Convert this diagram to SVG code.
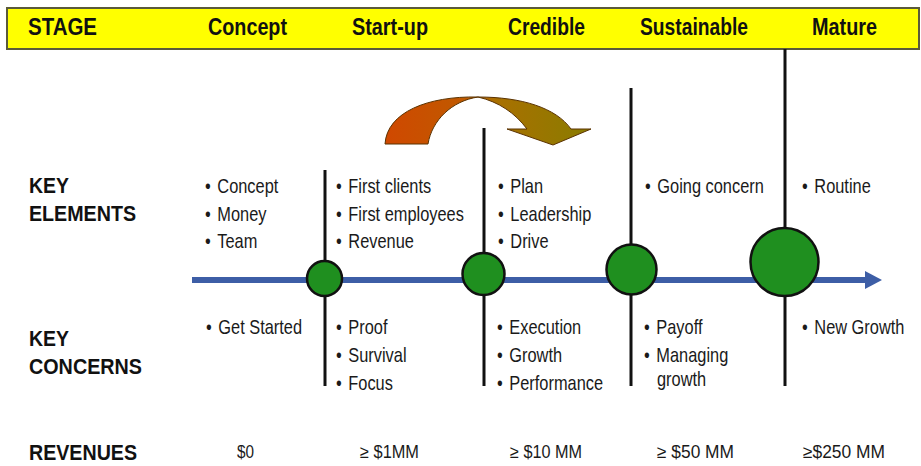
<svg xmlns="http://www.w3.org/2000/svg" width="921" height="466" viewBox="0 0 921 466">
  <style>
    .hdr { font-family: "Liberation Sans", Arial, sans-serif; font-weight: bold; font-size: 23px; fill: #111; }
    .lbl { font-family: "Liberation Sans", Arial, sans-serif; font-weight: bold; font-size: 22px; fill: #111; }
    .item { font-family: "Liberation Sans", Arial, sans-serif; font-size: 20px; fill: #1a1a1a; }
    .rev { font-family: "Liberation Sans", Arial, sans-serif; font-size: 18px; fill: #1a1a1a; }
    .divider { stroke: #111; stroke-width: 3; }
    .milestone { fill: #1f8f1f; stroke: #111; stroke-width: 2.5; }
    .axis { stroke: #3d5ea6; stroke-width: 6; fill: none; }
  </style>
  <defs>
    <marker id="axisHead" markerUnits="userSpaceOnUse" viewBox="0 0 17 18" markerWidth="17" markerHeight="18" refX="1" refY="9" orient="auto">
      <path d="M0,0 L17,9 L0,18 Z" fill="#3d5ea6"/>
    </marker>
    <linearGradient id="curveFill" gradientUnits="userSpaceOnUse" x1="385" y1="0" x2="590" y2="0">
      <stop offset="0" stop-color="#d04800"/>
      <stop offset="0.4" stop-color="#bf5a00"/>
      <stop offset="0.55" stop-color="#a87000"/>
      <stop offset="1" stop-color="#8a7c00"/>
    </linearGradient>
  </defs>

  <rect width="921" height="466" fill="#ffffff"/>

  <!-- header band -->
  <g id="stage-header">
    <rect x="7" y="8" width="912" height="41" fill="#ffff00" stroke="#5a5a3a" stroke-width="2"/>
    <text class="hdr" x="28" y="35" textLength="69" lengthAdjust="spacingAndGlyphs">STAGE</text>
    <text class="hdr" x="208" y="35" textLength="79" lengthAdjust="spacingAndGlyphs">Concept</text>
    <text class="hdr" x="352" y="35" textLength="76" lengthAdjust="spacingAndGlyphs">Start-up</text>
    <text class="hdr" x="508" y="35" textLength="77" lengthAdjust="spacingAndGlyphs">Credible</text>
    <text class="hdr" x="640" y="35" textLength="108" lengthAdjust="spacingAndGlyphs">Sustainable</text>
    <text class="hdr" x="812" y="35" textLength="65" lengthAdjust="spacingAndGlyphs">Mature</text>
  </g>

  <!-- row labels -->
  <g id="row-labels">
    <text class="lbl" x="29" y="193" textLength="40" lengthAdjust="spacingAndGlyphs">KEY</text>
    <text class="lbl" x="29" y="221" textLength="107" lengthAdjust="spacingAndGlyphs">ELEMENTS</text>
    <text class="lbl" x="29" y="346" textLength="40" lengthAdjust="spacingAndGlyphs">KEY</text>
    <text class="lbl" x="29" y="374" textLength="113" lengthAdjust="spacingAndGlyphs">CONCERNS</text>
    <text class="lbl" x="29" y="460" textLength="108" lengthAdjust="spacingAndGlyphs">REVENUES</text>
  </g>

  <!-- curved progress arrow -->
  <g id="progress-arrow" stroke="#5a3200" stroke-width="1" stroke-linejoin="round">
    <path d="M385,144 C387,112 428,96 478,97 C452,101 432,120 428,144 Z" fill="url(#curveFill)"/>
    <path d="M478,97 C522,97 556,108 571,129 L591,129 L553,145 L507,129 L527,129 C515,113 499,102 478,97 Z" fill="url(#curveFill)"/>
  </g>

  <!-- timeline axis and stage dividers -->
  <g id="connectors">
    <line class="axis" x1="192" y1="280" x2="866" y2="280" marker-end="url(#axisHead)"/>
    <line class="divider" x1="325" y1="170" x2="325" y2="386"/>
    <line class="divider" x1="484" y1="128" x2="484" y2="386"/>
    <line class="divider" x1="631" y1="88" x2="631" y2="386"/>
    <line class="divider" x1="785" y1="49" x2="785" y2="386"/>
  </g>

  <!-- milestones -->
  <g id="milestone-startup"><circle class="milestone" cx="324.5" cy="278.5" r="17.5"/></g>
  <g id="milestone-credible"><circle class="milestone" cx="483.5" cy="274" r="21"/></g>
  <g id="milestone-sustainable"><circle class="milestone" cx="631.5" cy="269.5" r="25"/></g>
  <g id="milestone-mature"><circle class="milestone" cx="784.5" cy="262" r="34"/></g>

  <!-- stage columns: each item is a bullet followed by its text -->
  <g id="stage-concept">
    <text class="item" transform="translate(205 193) scale(0.82 1)">•<tspan dx="8">Concept</tspan></text>
    <text class="item" transform="translate(205 220.5) scale(0.82 1)">•<tspan dx="8">Money</tspan></text>
    <text class="item" transform="translate(205 248) scale(0.82 1)">•<tspan dx="8">Team</tspan></text>
    <text class="item" transform="translate(206 334) scale(0.82 1)">•<tspan dx="8">Get Started</tspan></text>
    <text class="rev" x="237" y="458" textLength="17" lengthAdjust="spacingAndGlyphs">$0</text>
  </g>

  <g id="stage-startup">
    <text class="item" transform="translate(336 193) scale(0.82 1)">•<tspan dx="8">First clients</tspan></text>
    <text class="item" transform="translate(336 220.5) scale(0.82 1)">•<tspan dx="8">First employees</tspan></text>
    <text class="item" transform="translate(336 248) scale(0.82 1)">•<tspan dx="8">Revenue</tspan></text>
    <text class="item" transform="translate(336 334) scale(0.82 1)">•<tspan dx="8">Proof</tspan></text>
    <text class="item" transform="translate(336 362) scale(0.82 1)">•<tspan dx="8">Survival</tspan></text>
    <text class="item" transform="translate(336 390) scale(0.82 1)">•<tspan dx="8">Focus</tspan></text>
    <text class="rev" x="360" y="458" textLength="59" lengthAdjust="spacingAndGlyphs">≥ $1MM</text>
  </g>

  <g id="stage-credible">
    <text class="item" transform="translate(498 193) scale(0.82 1)">•<tspan dx="8">Plan</tspan></text>
    <text class="item" transform="translate(498 221) scale(0.82 1)">•<tspan dx="8">Leadership</tspan></text>
    <text class="item" transform="translate(498 248) scale(0.82 1)">•<tspan dx="8">Drive</tspan></text>
    <text class="item" transform="translate(497 334) scale(0.82 1)">•<tspan dx="8">Execution</tspan></text>
    <text class="item" transform="translate(497 362) scale(0.82 1)">•<tspan dx="8">Growth</tspan></text>
    <text class="item" transform="translate(497 390) scale(0.82 1)">•<tspan dx="8">Performance</tspan></text>
    <text class="rev" x="510" y="458" textLength="72" lengthAdjust="spacingAndGlyphs">≥ $10 MM</text>
  </g>

  <g id="stage-sustainable">
    <text class="item" transform="translate(645 193) scale(0.82 1)">•<tspan dx="8">Going concern</tspan></text>
    <text class="item" transform="translate(644 334) scale(0.82 1)">•<tspan dx="8">Payoff</tspan></text>
    <text class="item" transform="translate(644 362) scale(0.82 1)">•<tspan dx="8">Managing</tspan></text>
    <text class="item" transform="translate(657 386) scale(0.82 1)">growth</text>
    <text class="rev" x="657" y="458" textLength="77" lengthAdjust="spacingAndGlyphs">≥ $50 MM</text>
  </g>

  <g id="stage-mature">
    <text class="item" transform="translate(802 193) scale(0.82 1)">•<tspan dx="8">Routine</tspan></text>
    <text class="item" transform="translate(802 334) scale(0.82 1)">•<tspan dx="8">New Growth</tspan></text>
    <text class="rev" x="803" y="458" textLength="82" lengthAdjust="spacingAndGlyphs">≥$250 MM</text>
  </g>
</svg>
